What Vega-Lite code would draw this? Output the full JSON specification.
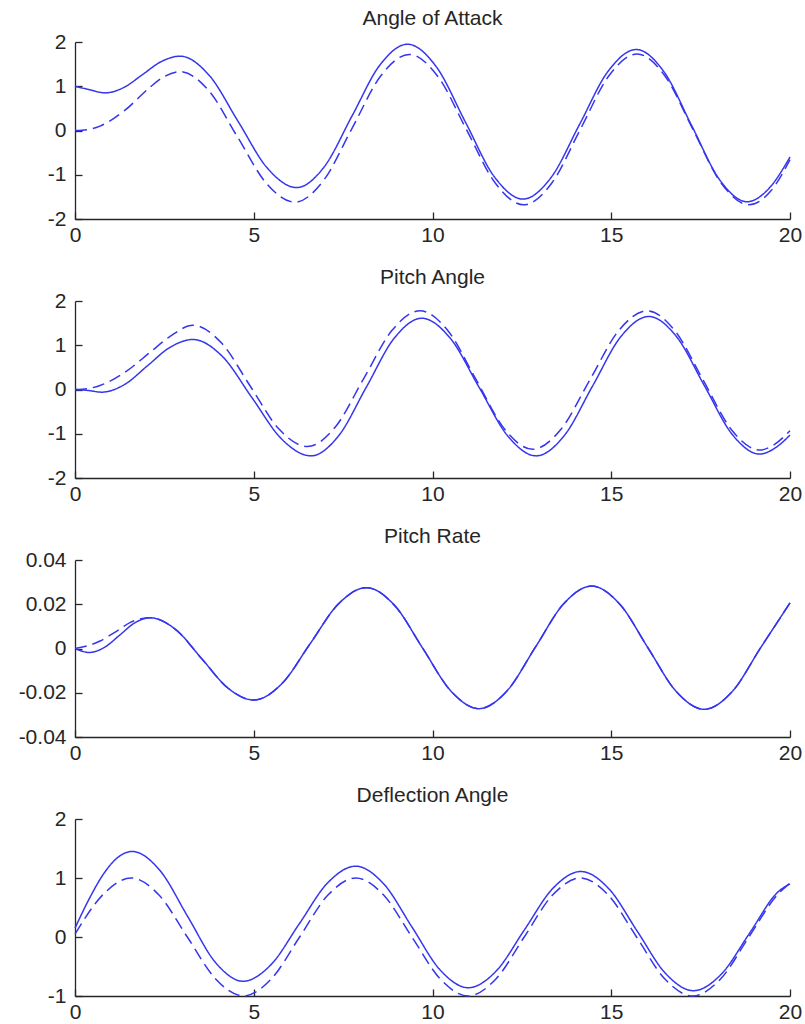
{
"$schema": "https://vega.github.io/schema/vega-lite/v6.json",
"padding": {"left": 18, "top": 8, "right": 10, "bottom": 0},
"bounds": "flush",
"spacing": 82,
"datasets": {
"p1": [
{"s":"solid","x":0,"y":1.0},{"s":"solid","x":0.42,"y":0.92},{"s":"solid","x":0.84,"y":0.85},{"s":"solid","x":1.365,"y":0.972},{"s":"solid","x":1.89,"y":1.265},{"s":"solid","x":2.415,"y":1.558},{"s":"solid","x":2.94,"y":1.68},{"s":"solid","x":3.755,"y":1.245},{"s":"solid","x":4.57,"y":0.195},{"s":"solid","x":5.385,"y":-0.855},{"s":"solid","x":6.2,"y":-1.29},{"s":"solid","x":6.975,"y":-0.816},{"s":"solid","x":7.75,"y":0.33},{"s":"solid","x":8.525,"y":1.476},{"s":"solid","x":9.3,"y":1.95},{"s":"solid","x":10.108,"y":1.438},{"s":"solid","x":10.915,"y":0.2},{"s":"solid","x":11.723,"y":-1.038},{"s":"solid","x":12.53,"y":-1.55},{"s":"solid","x":13.323,"y":-1.055},{"s":"solid","x":14.115,"y":0.14},{"s":"solid","x":14.908,"y":1.335},{"s":"solid","x":15.7,"y":1.83},{"s":"solid","x":16.475,"y":1.326},{"s":"solid","x":17.25,"y":0.11},{"s":"solid","x":18.025,"y":-1.106},{"s":"solid","x":18.8,"y":-1.61},{"s":"solid","x":19.4,"y":-1.32},{"s":"solid","x":20,"y":-0.6},
{"s":"dashed","x":0,"y":0},{"s":"dashed","x":0.35,"y":0.02},{"s":"dashed","x":0.7,"y":0.1},{"s":"dashed","x":1.4,"y":0.46},{"s":"dashed","x":2.1,"y":0.98},{"s":"dashed","x":2.5,"y":1.22},{"s":"dashed","x":2.94,"y":1.33},{"s":"dashed","x":3.743,"y":0.898},{"s":"dashed","x":4.545,"y":-0.145},{"s":"dashed","x":5.348,"y":-1.188},{"s":"dashed","x":6.15,"y":-1.62},{"s":"dashed","x":6.95,"y":-1.131},{"s":"dashed","x":7.75,"y":0.05},{"s":"dashed","x":8.55,"y":1.231},{"s":"dashed","x":9.35,"y":1.72},{"s":"dashed","x":10.15,"y":1.222},{"s":"dashed","x":10.95,"y":0.02},{"s":"dashed","x":11.75,"y":-1.182},{"s":"dashed","x":12.55,"y":-1.68},{"s":"dashed","x":13.343,"y":-1.181},{"s":"dashed","x":14.135,"y":0.025},{"s":"dashed","x":14.928,"y":1.231},{"s":"dashed","x":15.72,"y":1.73},{"s":"dashed","x":16.503,"y":1.231},{"s":"dashed","x":17.285,"y":0.025},{"s":"dashed","x":18.068,"y":-1.181},{"s":"dashed","x":18.85,"y":-1.68},{"s":"dashed","x":19.45,"y":-1.38},{"s":"dashed","x":20,"y":-0.66}
],
"p2": [
{"s":"solid","x":0,"y":0},{"s":"solid","x":0.35,"y":-0.02},{"s":"solid","x":0.75,"y":-0.06},{"s":"solid","x":1.388,"y":0.114},{"s":"solid","x":2.025,"y":0.535},{"s":"solid","x":2.663,"y":0.956},{"s":"solid","x":3.3,"y":1.13},{"s":"solid","x":4.125,"y":0.745},{"s":"solid","x":4.95,"y":-0.185},{"s":"solid","x":5.775,"y":-1.115},{"s":"solid","x":6.6,"y":-1.5},{"s":"solid","x":7.375,"y":-1.045},{"s":"solid","x":8.15,"y":0.055},{"s":"solid","x":8.925,"y":1.155},{"s":"solid","x":9.7,"y":1.61},{"s":"solid","x":10.5,"y":1.155},{"s":"solid","x":11.3,"y":0.055},{"s":"solid","x":12.1,"y":-1.045},{"s":"solid","x":12.9,"y":-1.5},{"s":"solid","x":13.688,"y":-1.039},{"s":"solid","x":14.475,"y":0.075},{"s":"solid","x":15.263,"y":1.189},{"s":"solid","x":16.05,"y":1.65},{"s":"solid","x":16.825,"y":1.195},{"s":"solid","x":17.6,"y":0.095},{"s":"solid","x":18.375,"y":-1.005},{"s":"solid","x":19.15,"y":-1.46},{"s":"solid","x":19.55,"y":-1.34},{"s":"solid","x":20,"y":-1.03},
{"s":"dashed","x":0,"y":0},{"s":"dashed","x":0.35,"y":0.02},{"s":"dashed","x":0.7,"y":0.09},{"s":"dashed","x":1.4,"y":0.39},{"s":"dashed","x":2.1,"y":0.84},{"s":"dashed","x":2.66,"y":1.2},{"s":"dashed","x":3.3,"y":1.45},{"s":"dashed","x":4.1,"y":1.049},{"s":"dashed","x":4.9,"y":0.08},{"s":"dashed","x":5.7,"y":-0.889},{"s":"dashed","x":6.5,"y":-1.29},{"s":"dashed","x":7.288,"y":-0.841},{"s":"dashed","x":8.075,"y":0.245},{"s":"dashed","x":8.863,"y":1.331},{"s":"dashed","x":9.65,"y":1.78},{"s":"dashed","x":10.438,"y":1.322},{"s":"dashed","x":11.225,"y":0.215},{"s":"dashed","x":12.013,"y":-0.892},{"s":"dashed","x":12.8,"y":-1.35},{"s":"dashed","x":13.6,"y":-0.892},{"s":"dashed","x":14.4,"y":0.215},{"s":"dashed","x":15.2,"y":1.322},{"s":"dashed","x":16.0,"y":1.78},{"s":"dashed","x":16.788,"y":1.319},{"s":"dashed","x":17.575,"y":0.205},{"s":"dashed","x":18.363,"y":-0.909},{"s":"dashed","x":19.15,"y":-1.37},{"s":"dashed","x":19.55,"y":-1.25},{"s":"dashed","x":20,"y":-0.93}
],
"p3": [
{"s":"solid","x":0,"y":0},{"s":"solid","x":0.4,"y":-0.0018},{"s":"solid","x":0.825,"y":0.0005},{"s":"solid","x":1.25,"y":0.00605},{"s":"solid","x":1.675,"y":0.0116},{"s":"solid","x":2.1,"y":0.0139},{"s":"solid","x":2.825,"y":0.00845},{"s":"solid","x":3.55,"y":-0.0047},{"s":"solid","x":4.275,"y":-0.01785},{"s":"solid","x":5.0,"y":-0.0233},{"s":"solid","x":5.788,"y":-0.01586},{"s":"solid","x":6.575,"y":0.0021},{"s":"solid","x":7.363,"y":0.02006},{"s":"solid","x":8.15,"y":0.0275},{"s":"solid","x":8.938,"y":0.01949},{"s":"solid","x":9.725,"y":0.00015},{"s":"solid","x":10.513,"y":-0.01919},{"s":"solid","x":11.3,"y":-0.0272},{"s":"solid","x":12.088,"y":-0.01909},{"s":"solid","x":12.875,"y":0.0005},{"s":"solid","x":13.663,"y":0.02009},{"s":"solid","x":14.45,"y":0.0282},{"s":"solid","x":15.238,"y":0.02005},{"s":"solid","x":16.025,"y":0.00035},{"s":"solid","x":16.813,"y":-0.01935},{"s":"solid","x":17.6,"y":-0.0275},{"s":"solid","x":18.388,"y":-0.01937},{"s":"solid","x":19.175,"y":0.00025},{"s":"solid","x":20,"y":0.0206},
{"s":"dashed","x":0,"y":0},{"s":"dashed","x":0.3,"y":0.001},{"s":"dashed","x":0.7,"y":0.0034},{"s":"dashed","x":1.2,"y":0.0082},{"s":"dashed","x":1.55,"y":0.0118},{"s":"dashed","x":1.85,"y":0.0135},{"s":"dashed","x":2.1,"y":0.0139},{"s":"dashed","x":2.825,"y":0.00845},{"s":"dashed","x":3.55,"y":-0.0047},{"s":"dashed","x":4.275,"y":-0.01785},{"s":"dashed","x":5.0,"y":-0.0233},{"s":"dashed","x":5.788,"y":-0.01586},{"s":"dashed","x":6.575,"y":0.0021},{"s":"dashed","x":7.363,"y":0.02006},{"s":"dashed","x":8.15,"y":0.0275},{"s":"dashed","x":8.938,"y":0.01949},{"s":"dashed","x":9.725,"y":0.00015},{"s":"dashed","x":10.513,"y":-0.01919},{"s":"dashed","x":11.3,"y":-0.0272},{"s":"dashed","x":12.088,"y":-0.01909},{"s":"dashed","x":12.875,"y":0.0005},{"s":"dashed","x":13.663,"y":0.02009},{"s":"dashed","x":14.45,"y":0.0282},{"s":"dashed","x":15.238,"y":0.02005},{"s":"dashed","x":16.025,"y":0.00035},{"s":"dashed","x":16.813,"y":-0.01935},{"s":"dashed","x":17.6,"y":-0.0275},{"s":"dashed","x":18.388,"y":-0.01937},{"s":"dashed","x":19.175,"y":0.00025},{"s":"dashed","x":20,"y":0.0206}
],
"p4": [
{"s":"solid","x":0,"y":0.15},{"s":"solid","x":0.4,"y":0.65},{"s":"solid","x":0.8,"y":1.07},{"s":"solid","x":1.2,"y":1.35},{"s":"solid","x":1.6,"y":1.45},{"s":"solid","x":2.375,"y":1.128},{"s":"solid","x":3.15,"y":0.35},{"s":"solid","x":3.925,"y":-0.428},{"s":"solid","x":4.7,"y":-0.75},{"s":"solid","x":5.488,"y":-0.465},{"s":"solid","x":6.275,"y":0.225},{"s":"solid","x":7.063,"y":0.915},{"s":"solid","x":7.85,"y":1.2},{"s":"solid","x":8.638,"y":0.898},{"s":"solid","x":9.425,"y":0.17},{"s":"solid","x":10.213,"y":-0.558},{"s":"solid","x":11.0,"y":-0.86},{"s":"solid","x":11.788,"y":-0.572},{"s":"solid","x":12.575,"y":0.125},{"s":"solid","x":13.363,"y":0.822},{"s":"solid","x":14.15,"y":1.11},{"s":"solid","x":14.938,"y":0.814},{"s":"solid","x":15.725,"y":0.1},{"s":"solid","x":16.513,"y":-0.614},{"s":"solid","x":17.3,"y":-0.91},{"s":"solid","x":18.088,"y":-0.623},{"s":"solid","x":18.875,"y":0.07},{"s":"solid","x":19.663,"y":0.763},{"s":"solid","x":20,"y":0.9},
{"s":"dashed","x":0,"y":0.05},{"s":"dashed","x":0.785,"y":0.72},{"s":"dashed","x":1.571,"y":1.0},{"s":"dashed","x":2.356,"y":0.707},{"s":"dashed","x":3.142,"y":0},{"s":"dashed","x":3.927,"y":-0.707},{"s":"dashed","x":4.712,"y":-1.0},{"s":"dashed","x":5.498,"y":-0.707},{"s":"dashed","x":6.283,"y":0},{"s":"dashed","x":7.069,"y":0.707},{"s":"dashed","x":7.854,"y":1.0},{"s":"dashed","x":8.639,"y":0.707},{"s":"dashed","x":9.425,"y":0},{"s":"dashed","x":10.21,"y":-0.707},{"s":"dashed","x":10.996,"y":-1.0},{"s":"dashed","x":11.781,"y":-0.707},{"s":"dashed","x":12.566,"y":0},{"s":"dashed","x":13.352,"y":0.707},{"s":"dashed","x":14.137,"y":1.0},{"s":"dashed","x":14.923,"y":0.707},{"s":"dashed","x":15.708,"y":0},{"s":"dashed","x":16.493,"y":-0.707},{"s":"dashed","x":17.279,"y":-1.0},{"s":"dashed","x":18.064,"y":-0.707},{"s":"dashed","x":18.85,"y":0},{"s":"dashed","x":19.635,"y":0.707},{"s":"dashed","x":20,"y":0.913}
]
},
"vconcat": [
{"title": "Angle of Attack", "width": 715, "height": 177, "data": {"name": "p1"},
 "mark": {"type": "line", "interpolate": "monotone"},
 "encoding": {
  "x": {"field": "x", "type": "quantitative", "scale": {"domain": [0, 20], "nice": false}, "axis": {"values": [0, 5, 10, 15, 20]}},
  "y": {"field": "y", "type": "quantitative", "scale": {"domain": [-2, 2], "nice": false}, "axis": {"values": [-2, -1, 0, 1, 2]}},
  "strokeDash": {"field": "s", "type": "nominal", "scale": {"domain": ["solid", "dashed"], "range": [[1, 0], [12, 6]]}, "legend": null}
 }},
{"title": "Pitch Angle", "width": 715, "height": 177, "data": {"name": "p2"},
 "mark": {"type": "line", "interpolate": "monotone"},
 "encoding": {
  "x": {"field": "x", "type": "quantitative", "scale": {"domain": [0, 20], "nice": false}, "axis": {"values": [0, 5, 10, 15, 20]}},
  "y": {"field": "y", "type": "quantitative", "scale": {"domain": [-2, 2], "nice": false}, "axis": {"values": [-2, -1, 0, 1, 2]}},
  "strokeDash": {"field": "s", "type": "nominal", "scale": {"domain": ["solid", "dashed"], "range": [[1, 0], [12, 6]]}, "legend": null}
 }},
{"title": "Pitch Rate", "width": 715, "height": 177, "data": {"name": "p3"},
 "mark": {"type": "line", "interpolate": "monotone"},
 "encoding": {
  "x": {"field": "x", "type": "quantitative", "scale": {"domain": [0, 20], "nice": false}, "axis": {"values": [0, 5, 10, 15, 20]}},
  "y": {"field": "y", "type": "quantitative", "scale": {"domain": [-0.04, 0.04], "nice": false}, "axis": {"values": [-0.04, -0.02, 0, 0.02, 0.04]}},
  "strokeDash": {"field": "s", "type": "nominal", "scale": {"domain": ["solid", "dashed"], "range": [[1, 0], [12, 6]]}, "legend": null}
 }},
{"title": "Deflection Angle", "width": 715, "height": 177, "data": {"name": "p4"},
 "mark": {"type": "line", "interpolate": "monotone"},
 "encoding": {
  "x": {"field": "x", "type": "quantitative", "scale": {"domain": [0, 20], "nice": false}, "axis": {"values": [0, 5, 10, 15, 20]}},
  "y": {"field": "y", "type": "quantitative", "scale": {"domain": [-1, 2], "nice": false}, "axis": {"values": [-1, 0, 1, 2]}},
  "strokeDash": {"field": "s", "type": "nominal", "scale": {"domain": ["solid", "dashed"], "range": [[1, 0], [12, 6]]}, "legend": null}
 }}
],
"config": {
 "view": {"stroke": null},
 "font": "Liberation Sans",
 "axis": {"title": null, "grid": false, "domainColor": "#262626", "domainWidth": 1.3, "tickColor": "#262626", "tickWidth": 1.3, "tickSize": -7, "labelColor": "#262626", "labelFont": "Liberation Sans", "labelFontSize": 21, "labelFlush": false, "labelOverlap": false, "labelExpr": "'' + datum.value"},
 "axisX": {"labelPadding": 12},
 "axisY": {"labelPadding": 16},
 "title": {"font": "Liberation Sans", "fontSize": 21, "fontWeight": "normal", "color": "#262626", "anchor": "middle", "offset": 2},
 "line": {"color": "#3535ee", "strokeWidth": 1.5}
}
}
